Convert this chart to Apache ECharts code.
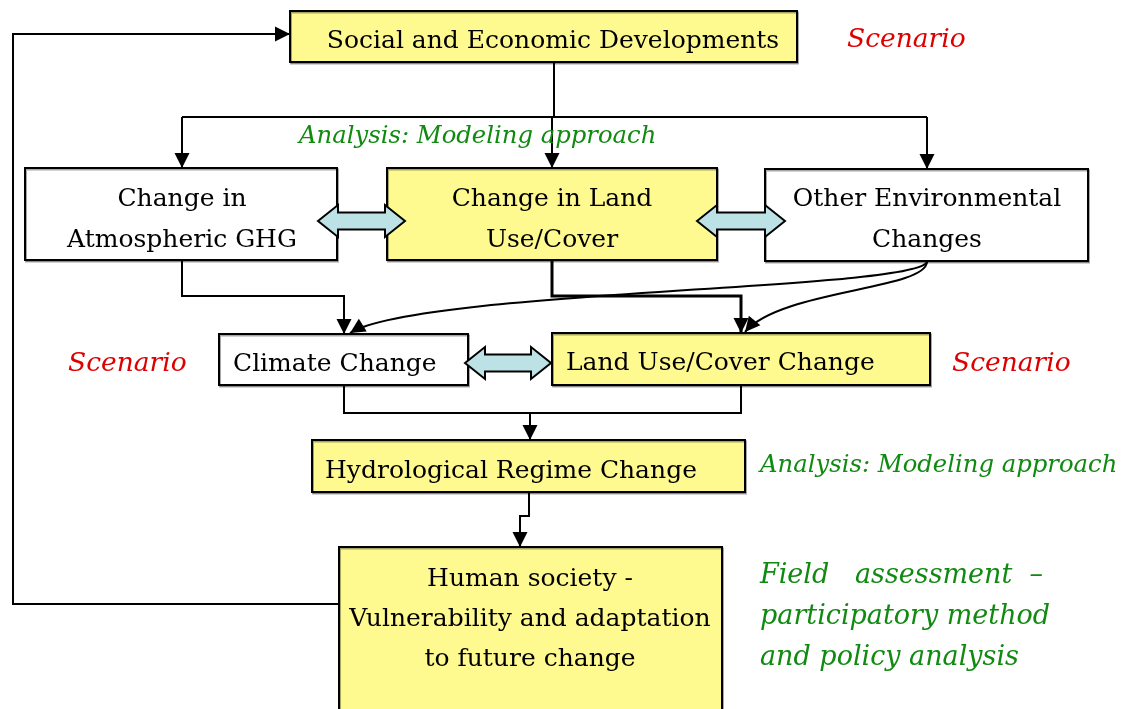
<!DOCTYPE html>
<html>
<head>
<meta charset="utf-8">
<script src="https://cdn.jsdelivr.net/npm/echarts@6/dist/echarts.min.js"></script>
<style>
    html, body {margin: 0; padding: 0; background: #fff;}
    #main {width: 1129px; height: 709px;}
</style>
</head>
<body>
<div id="main"></div>
<script>
// box texts (\n = line break) and which ones are highlighted
var boxLabels = [
    'Social and Economic Developments',
    'Change in\nAtmospheric GHG',
    'Change in Land\nUse/Cover',
    'Other Environmental\nChanges',
    'Climate Change',
    'Land Use/Cover Change',
    'Hydrological Regime Change',
    'Human society -\nVulnerability and adaptation\nto future change'
];
var boxYellow = [true, false, true, false, false, true, true, true];

// free notes beside the boxes
var noteLabels = [
    'Scenario',
    'Analysis: Modeling approach',
    'Scenario',
    'Scenario',
    'Analysis: Modeling approach',
    'Field   assessment  \u2013',
    'participatory method',
    'and policy analysis'
];
var noteKind = ['scenario', 'analysis', 'scenario', 'scenario', 'analysis', 'field', 'field', 'field'];

// ---- layout (diagram units = pixels of the hidden axes) ----
var boxRects = [
    [290, 11, 797, 62],
    [25, 168, 337, 260],
    [387, 168, 717, 260],
    [765, 169, 1088, 261],
    [219, 334, 468, 385],
    [552, 333, 930, 385],
    [312, 440, 745, 492],
    [339, 547, 722, 730]
];
// [x, y of first line, align, line height]
var boxText = [
    [553, 41, 'center', 0],
    [182, 199, 'center', 41],
    [552, 199, 'center', 41],
    [927, 199, 'center', 41],
    [233, 364, 'left', 0],
    [566, 363, 'left', 0],
    [325, 471, 'left', 0],
    [530, 579, 'center', 40]
];
var notePos = [[847, 40], [299, 137], [68, 364], [952, 364], [760, 466], [760, 576], [760, 617], [760, 658]];

// elbow connectors: points, arrow at end?, width
var connectors = [
    {pts: [[339, 604], [13, 604], [13, 34], [290, 34]], arrow: true},
    {pts: [[554, 62], [554, 117]], arrow: false},
    {pts: [[182, 117], [927, 117]], arrow: false},
    {pts: [[182, 117], [182, 168]], arrow: true},
    {pts: [[552, 117], [552, 168]], arrow: true},
    {pts: [[927, 117], [927, 169]], arrow: true},
    {pts: [[182, 260], [182, 296], [344, 296], [344, 334]], arrow: true},
    {pts: [[552, 260], [552, 296], [741, 296], [741, 333]], arrow: true, w: 3},
    {pts: [[344, 385], [344, 413], [741, 413], [741, 385]], arrow: false},
    {pts: [[530, 413], [530, 440]], arrow: true},
    {pts: [[529, 492], [529, 516], [520, 516], [520, 547]], arrow: true}
];
// curved connectors (cubic): start, cp1, cp2, end
var curves = [
    [[927, 262], [915, 290], [420, 290], [350, 333]],
    [[927, 262], [925, 290], [780, 290], [745, 332]]
];
// double block arrows: x0, x1, yc
var dblArrows = [[318, 405, 221], [697, 785, 221], [465, 551, 363]];

var FONT = 'DejaVu Serif';
var YELLOW = '#fffa90';
var BLUE = '#bce2e5';
var noteStyle = {
    scenario: {size: 26.5, color: '#dd0000'},
    analysis: {size: 24.3, color: '#108a10'},
    field: {size: 27, color: '#108a10'}
};

function arrowHead(tip, from, len, half) {
    var dx = tip[0] - from[0], dy = tip[1] - from[1];
    var d = Math.sqrt(dx * dx + dy * dy);
    var ux = dx / d, uy = dy / d;
    var bx = tip[0] - ux * len, by = tip[1] - uy * len;
    return [tip, [bx - uy * half, by + ux * half], [bx + uy * half, by - ux * half]];
}

function renderBox(params, api) {
    var i = api.value(0);
    var r = boxRects[i];
    var p0 = api.coord([r[0], r[1]]), p1 = api.coord([r[2], r[3]]);
    var children = [{
        type: 'rect',
        shape: {x: p0[0], y: p0[1], width: p1[0] - p0[0], height: p1[1] - p0[1]},
        style: {fill: boxYellow[i] ? YELLOW : '#fff', stroke: '#000', lineWidth: 2,
            shadowColor: 'rgba(0,0,0,0.35)', shadowOffsetX: 1, shadowOffsetY: 1.5, shadowBlur: 0}
    }];
    var t = boxText[i];
    var lines = boxLabels[i].split('\n');
    for (var k = 0; k < lines.length; k++) {
        var p = api.coord([t[0], t[1] + k * t[3]]);
        children.push({
            type: 'text',
            style: {
                x: p[0], y: p[1], text: lines[k],
                font: '25px "' + FONT + '"', fill: '#000',
                align: t[2], verticalAlign: 'middle'
            }
        });
    }
    return {type: 'group', children: children};
}

function renderNote(params, api) {
    var i = api.value(0);
    var p = api.coord(notePos[i]);
    var s = noteStyle[noteKind[i]];
    return {
        type: 'text',
        style: {
            x: p[0], y: p[1], text: noteLabels[i],
            font: 'italic ' + s.size + 'px "' + FONT + '"',
            fill: s.color,
            align: 'left', verticalAlign: 'middle'
        }
    };
}

function renderConnector(params, api) {
    var c = connectors[api.value(0)];
    var pts = c.pts.map(function (q) { return api.coord(q); });
    var children = [{
        type: 'polyline',
        shape: {points: pts},
        style: {fill: null, stroke: '#000', lineWidth: c.w || 2}
    }];
    if (c.arrow) {
        var n = pts.length;
        children.push({
            type: 'polygon',
            shape: {points: arrowHead(pts[n - 1], pts[n - 2], 15, 7.5)},
            style: {fill: '#000'}
        });
    }
    return {type: 'group', children: children};
}

function renderCurve(params, api) {
    var c = curves[api.value(0)].map(function (q) { return api.coord(q); });
    return {
        type: 'group',
        children: [{
            type: 'bezierCurve',
            shape: {x1: c[0][0], y1: c[0][1], cpx1: c[1][0], cpy1: c[1][1],
                cpx2: c[2][0], cpy2: c[2][1], x2: c[3][0], y2: c[3][1]},
            style: {fill: null, stroke: '#000', lineWidth: 2}
        }, {
            type: 'polygon',
            shape: {points: arrowHead(c[3], c[2], 15, 7.5)},
            style: {fill: '#000'}
        }]
    };
}

function renderDbl(params, api) {
    var a = dblArrows[api.value(0)];
    var l = api.coord([a[0], a[2]]), r = api.coord([a[1], a[2]]);
    var y = l[1], hl = 20, hh = 16, sh = 8.5;
    var pts = [
        [l[0], y], [l[0] + hl, y - hh], [l[0] + hl, y - sh], [r[0] - hl, y - sh], [r[0] - hl, y - hh],
        [r[0], y], [r[0] - hl, y + hh], [r[0] - hl, y + sh], [l[0] + hl, y + sh], [l[0] + hl, y + hh]
    ];
    return {type: 'polygon', shape: {points: pts}, style: {fill: BLUE, stroke: '#000', lineWidth: 2}};
}

function idx(arr) {
    return arr.map(function (d, i) { return [i]; });
}

var chart = echarts.init(document.getElementById('main'));
chart.setOption({
    backgroundColor: '#fff',
    animation: false,
    grid: {left: 0, right: 0, top: 0, bottom: 0},
    xAxis: {type: 'value', min: 0, max: 1129, show: false},
    yAxis: {type: 'value', min: 0, max: 709, inverse: true, show: false},
    series: [
        {type: 'custom', renderItem: renderBox, data: idx(boxLabels), clip: false, z: 2},
        {type: 'custom', renderItem: renderConnector, data: idx(connectors), clip: false, z: 3},
        {type: 'custom', renderItem: renderCurve, data: idx(curves), clip: false, z: 3},
        {type: 'custom', renderItem: renderDbl, data: idx(dblArrows), clip: false, z: 4},
        {type: 'custom', renderItem: renderNote, data: idx(noteLabels), clip: false, z: 5}
    ]
});
</script>
</body>
</html>
